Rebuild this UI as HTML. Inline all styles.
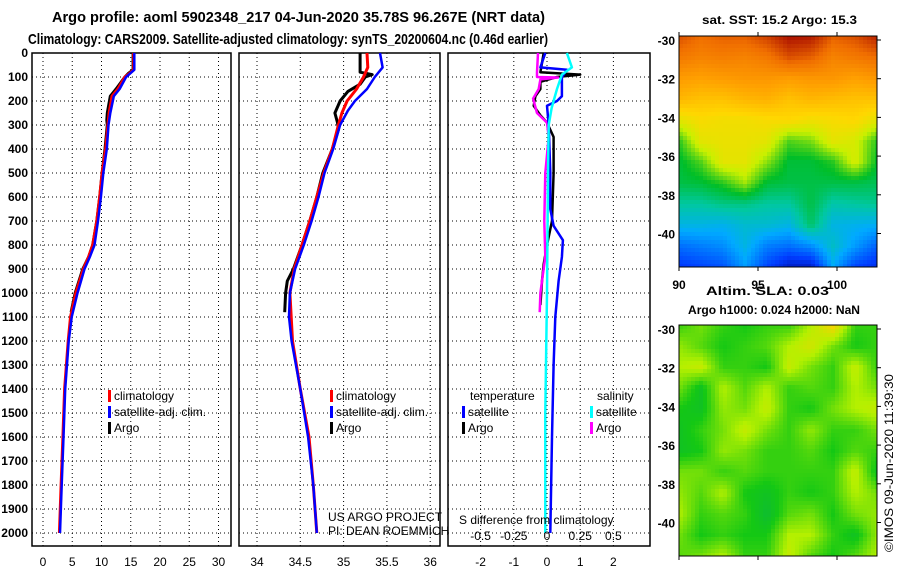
<!DOCTYPE html>
<html><head><meta charset="utf-8"><style>
body{margin:0;background:#fff;}
svg{display:block;font-family:"Liberation Sans",sans-serif;font-weight:bold;}
</style></head><body>
<svg id="fig" width="900" height="580" viewBox="0 0 900 580">
<rect width="900" height="580" fill="#fff"/>
<text x="52" y="22" font-size="15" textLength="493" lengthAdjust="spacingAndGlyphs">Argo profile: aoml 5902348_217 04-Jun-2020 35.78S 96.267E (NRT data)</text>
<text x="28" y="44" font-size="15" textLength="520" lengthAdjust="spacingAndGlyphs">Climatology: CARS2009. Satellite-adjusted climatology: synTS_20200604.nc (0.46d earlier)</text>
<g id="panels"></g>
<g id="maps"></g>
<text x="702" y="24" font-size="12" textLength="155" lengthAdjust="spacingAndGlyphs">sat. SST: 15.2 Argo: 15.3</text>
<text x="706" y="295" font-size="12" textLength="123" lengthAdjust="spacingAndGlyphs">Altim. SLA: 0.03</text>
<text x="688" y="314" font-size="12" textLength="172" lengthAdjust="spacingAndGlyphs">Argo h1000: 0.024 h2000: NaN</text>
<text transform="translate(893,552) rotate(-90)" font-size="12" font-weight="normal" textLength="178" lengthAdjust="spacingAndGlyphs">©IMOS 09-Jun-2020 11:39:30</text>
</svg>
<script>
// ---- data ----
const depthTicks=[0,100,200,300,400,500,600,700,800,900,1000,1100,1200,1300,1400,1500,1600,1700,1800,1900,2000];
const tTicks=[0,5,10,15,20,25,30];
const sTicks=[34,34.5,35,35.5,36];
const sTickLabels=["34","34.5","35","35.5","36"];
const dTicks=[-2,-1,0,1,2];
const sdTickLabels=["-0.5","-0.25","0","0.25","0.5"];
// temperature profiles [depth, degC]
const tempClim=[[0,15.5],[70,15.5],[85,14.8],[100,14.0],[150,12.8],[180,11.8],[250,11.3],[300,11.1],[400,10.7],[500,10.1],[600,9.7],[700,9.2],[800,8.5],[850,7.8],[900,6.9],[1000,5.6],[1100,4.7],[1200,4.3],[1400,3.7],[1600,3.4],[1800,3.1],[2000,2.8]];
const tempSat=[[0,15.6],[70,15.6],[85,14.9],[100,14.2],[150,13.1],[180,12.1],[250,11.5],[300,11.2],[400,10.9],[500,10.3],[600,9.9],[700,9.4],[800,8.8],[850,8.0],[900,7.1],[1000,5.9],[1100,4.9],[1200,4.4],[1400,3.8],[1600,3.5],[1800,3.2],[2000,2.9]];
const tempArgo=[[0,15.4],[70,15.4],[85,14.6],[100,14.0],[150,12.5],[180,11.5],[250,11.0],[280,10.9],[300,11.0],[400,10.6],[500,10.1],[600,9.7],[700,9.2],[800,8.5],[850,7.8],[900,6.8],[1000,5.5],[1080,4.8]];
// salinity profiles [depth, psu]
const salClim=[[0,35.27],[60,35.28],[100,35.23],[150,35.15],[200,35.04],[250,34.98],[300,34.94],[400,34.87],[500,34.77],[600,34.69],[700,34.61],[800,34.52],[900,34.43],[1000,34.38],[1200,34.41],[1400,34.5],[1600,34.6],[1800,34.65],[2000,34.69]];
const salSat=[[0,35.42],[60,35.45],[100,35.36],[150,35.27],[200,35.13],[240,35.05],[300,34.96],[400,34.88],[500,34.78],[600,34.71],[700,34.63],[800,34.54],[900,34.44],[1000,34.38],[1100,34.37],[1200,34.4],[1400,34.5],[1600,34.59],[1800,34.65],[2000,34.69]];
const salArgo=[[0,35.19],[80,35.19],[90,35.33],[100,35.25],[130,35.19],[160,35.05],[200,34.96],[250,34.9],[290,34.93],[320,34.94],[400,34.87],[500,34.76],[600,34.69],[700,34.61],[800,34.52],[900,34.42],[950,34.35],[1000,34.33],[1080,34.32]];
// differences from climatology (temperature units; salinity plotted x4)
const dTempSat=[[0,-0.05],[60,-0.2],[70,0.6],[100,0.45],[180,0.45],[200,0.3],[220,0.0],[300,0.05],[500,0.1],[650,0.1],[720,0.2],[780,0.48],[850,0.45],[950,0.35],[1100,0.25],[1300,0.2],[1600,0.15],[2000,0.1]];
const dTempArgo=[[0,-0.1],[80,-0.2],[90,1.0],[100,0.3],[120,-0.2],[150,-0.2],[180,-0.35],[220,-0.4],[260,-0.2],[290,0.0],[350,0.2],[500,0.2],[700,0.15],[800,0.0],[880,-0.1],[950,-0.15],[1050,-0.2]];
const dSalSat=[[0,0.6],[60,0.75],[90,0.45],[150,0.3],[200,0.2],[230,0.14],[300,0.05],[500,0.03],[1000,0.0],[1500,-0.05],[2000,-0.05]];
const dSalArgo=[[0,-0.27],[80,-0.3],[100,-0.3],[102,0.33],[110,-0.2],[150,-0.25],[190,-0.42],[250,-0.3],[290,0.0],[350,0.05],[500,-0.05],[700,-0.08],[850,-0.05],[950,-0.15],[1000,-0.2],[1080,-0.22]];

const NS="http://www.w3.org/2000/svg";
function mk(tag,attrs,parent){const e=document.createElementNS(NS,tag);for(const k in attrs)e.setAttribute(k,attrs[k]);parent.appendChild(e);return e;}
const yD=d=>53+d*0.24;
const panels=[
 {x0:32,x1:231,fx:v=>43+5.85*v,ticks:tTicks,labels:tTicks.map(String),name:"temperature"},
 {x0:239,x1:440,fx:v=>257+86.6*(v-34),ticks:sTicks,labels:sTickLabels,name:"salinity"},
 {x0:448,x1:650,fx:v=>547+33.2*v,ticks:dTicks,labels:dTicks.map(String),name:"difference"}
];
const G=document.getElementById('panels');
panels.forEach((p,pi)=>{
 const g=mk('g',{},G);
 
 
 depthTicks.forEach(d=>{
  const l=mk('line',{x1:p.x0,x2:p.x1,y1:yD(d),y2:yD(d),stroke:'#000','stroke-width':1,'stroke-dasharray':'1,3'},g);
  
  
 });
 p.ticks.forEach((v,i)=>{
  const x=p.fx(v);
  const l=mk('line',{x1:x,x2:x,y1:53,y2:546,stroke:'#000','stroke-width':1,'stroke-dasharray':'1,3'},g);
  
  
  const t=mk('text',{x:x,y:566,'font-size':12,'text-anchor':'middle','font-weight':'normal'},g);
  t.textContent=p.labels[i];
  
  
 });
 const r=mk('rect',{x:p.x0,y:53,width:p.x1-p.x0,height:493,fill:'none',stroke:'#000','stroke-width':1.5},g);
 
 
});
depthTicks.forEach(d=>{
 const t=mk('text',{x:28,y:yD(d)+4,'font-size':12,'text-anchor':'end'},G);
 t.textContent=String(d);
 
 
});
function line(pts,fx,col,name,w){
 const dstr=pts.map((p,i)=>(i?'L':'M')+fx(p[1]).toFixed(1)+','+yD(p[0]).toFixed(1)).join('');
 const e=mk('path',{d:dstr,fill:'none',stroke:col,'stroke-width':w||3,'stroke-linejoin':'round'},G);
 
 
}
const P=panels;
line(tempArgo,P[0].fx,'#000','temp-argo-line');
line(tempClim,P[0].fx,'#f00','temp-climatology-line');
line(tempSat,P[0].fx,'#00f','temp-satellite-line',2.5);
line(salArgo,P[1].fx,'#000','sal-argo-line');
line(salClim,P[1].fx,'#f00','sal-climatology-line');
line(salSat,P[1].fx,'#00f','sal-satellite-line',2.5);
const fs=v=>P[2].fx(v);
line(dTempArgo,fs,'#000','tdiff-argo-line',2.5);
line(dSalArgo,fs,'#f0f','sdiff-argo-line',2.5);
line(dTempSat,fs,'#00f','tdiff-satellite-line',2.5);
line(dSalSat,fs,'#0ff','sdiff-satellite-line',2.5);
// legends
function leg(x,y,col,txt,name){
 const r=mk('rect',{x:x,y:y-10,width:3,height:12,fill:col},G);
 
 
 const t=mk('text',{x:x+6,y:y,'font-size':12,'font-weight':'normal'},G);
 t.textContent=txt;
 
 
}
[[108,'temp'],[330,'sal']].forEach(([x,n])=>{
 leg(x,400,'#f00','climatology',n+'-legend-climatology');
 leg(x,416,'#00f','satellite-adj. clim.',n+'-legend-satellite');
 leg(x,432,'#000','Argo',n+'-legend-argo');
});
function txt(x,y,s,name,size,anchor){
 const t=mk('text',{x:x,y:y,'font-size':size||12,'font-weight':'normal','text-anchor':anchor||'start'},G);
 t.textContent=s;
 
 
}
txt(470,400,'temperature','legend-temperature-heading');
txt(597,400,'salinity','legend-salinity-heading');
leg(462,416,'#00f','satellite','legend-tdiff-satellite');
leg(462,432,'#000','Argo','legend-tdiff-argo');
leg(590,416,'#0ff','satellite','legend-sdiff-satellite');
leg(590,432,'#f0f','Argo','legend-sdiff-argo');
txt(328,521,'US ARGO PROJECT','project-credit');
txt(328,535,'PI: DEAN ROEMMICH','pi-credit');
txt(459,524,'S difference from climatology','sdiff-axis-title');
[-0.5,-0.25,0,0.25,0.5].forEach((v,i)=>txt(fs(v*4),540,sdTickLabels[i],'sdiff-tick-label',12,'middle'));

// ---- maps ----
const sstGrid=[
[0.9,0.86,0.88,0.88,0.92,0.98,0.97,0.88,0.9,0.96],
[0.84,0.82,0.83,0.82,0.84,0.9,0.88,0.82,0.84,0.86],
[0.77,0.76,0.77,0.78,0.78,0.77,0.78,0.78,0.76,0.78],
[0.72,0.7,0.7,0.72,0.73,0.7,0.72,0.71,0.7,0.7],
[0.62,0.65,0.64,0.64,0.65,0.66,0.64,0.65,0.66,0.62],
[0.5,0.62,0.63,0.63,0.62,0.52,0.54,0.62,0.6,0.5],
[0.47,0.52,0.62,0.62,0.55,0.47,0.47,0.5,0.6,0.48],
[0.46,0.47,0.5,0.56,0.47,0.46,0.46,0.46,0.46,0.45],
[0.4,0.4,0.42,0.42,0.4,0.4,0.46,0.39,0.4,0.41],
[0.33,0.33,0.32,0.35,0.35,0.33,0.44,0.33,0.32,0.31],
[0.22,0.24,0.26,0.33,0.24,0.22,0.26,0.36,0.28,0.2],
[0.14,0.16,0.18,0.28,0.16,0.08,0.08,0.3,0.16,0.12]];
const slaGrid=[
[0.4,0.5,0.4,0.35,0.4,0.4,0.6,0.85,0.4,0.4],
[0.55,0.45,0.35,0.4,0.45,0.6,0.7,0.5,0.35,0.4],
[0.6,0.65,0.4,0.4,0.35,0.65,0.5,0.4,0.65,0.4],
[0.5,0.3,0.6,0.45,0.6,0.4,0.45,0.4,0.6,0.5],
[0.35,0.3,0.55,0.5,0.65,0.4,0.35,0.5,0.6,0.65],
[0.3,0.4,0.5,0.65,0.5,0.4,0.55,0.4,0.4,0.5],
[0.3,0.35,0.55,0.5,0.4,0.4,0.45,0.35,0.45,0.4],
[0.5,0.5,0.4,0.45,0.4,0.4,0.4,0.4,0.65,0.3],
[0.55,0.45,0.6,0.35,0.3,0.4,0.35,0.4,0.6,0.5],
[0.6,0.4,0.45,0.4,0.25,0.45,0.5,0.35,0.5,0.55],
[0.5,0.35,0.4,0.35,0.35,0.6,0.6,0.4,0.3,0.55],
[0.45,0.5,0.6,0.4,0.4,0.65,0.45,0.35,0.45,0.6]];
function interp(grid,u,v){
 const R=grid.length,C=grid[0].length;
 const fy=Math.min(Math.max(v*(R-1),0),R-1),fx=Math.min(Math.max(u*(C-1),0),C-1);
 const y0=Math.floor(fy),x0=Math.floor(fx),y1=Math.min(y0+1,R-1),x1=Math.min(x0+1,C-1);
 const a=fy-y0,b=fx-x0;
 return grid[y0][x0]*(1-a)*(1-b)+grid[y0][x1]*(1-a)*b+grid[y1][x0]*a*(1-b)+grid[y1][x1]*a*b;
}
function ramp(stops,t){
 t=Math.min(Math.max(t,0),1);
 for(let i=1;i<stops.length;i++){if(t<=stops[i][0]){const s=stops[i-1],e=stops[i],f=(t-s[0])/(e[0]-s[0]||1);
  return `rgb(${Math.round(s[1]+(e[1]-s[1])*f)},${Math.round(s[2]+(e[2]-s[2])*f)},${Math.round(s[3]+(e[3]-s[3])*f)})`;}}
 const l=stops[stops.length-1];return `rgb(${l[1]},${l[2]},${l[3]})`;
}
const jetStops=[[0,0,0,140],[0.15,0,60,255],[0.3,0,170,255],[0.4,0,200,160],[0.48,0,190,40],[0.58,200,240,0],[0.66,255,215,0],[0.76,255,160,0],[0.86,240,110,0],[1,160,0,0]];
const slaStops=[[0,0,160,120],[0.35,20,200,20],[0.6,180,240,0],[0.85,250,210,0],[1,255,180,0]];
const jet=t=>ramp(jetStops,t);
const slaCol=t=>ramp(slaStops,t);
const M=document.getElementById('maps');
function drawMap(x0,y0,w,h,grid,cmap,name,cs){
 const g=mk('g',{},M);
 
 
 for(let y=0;y<h;y+=cs)for(let x=0;x<w;x+=cs){
  const c=cmap(interp(grid,(x+cs/2)/w,(y+cs/2)/h));
  mk('rect',{x:x0+x,y:y0+y,width:Math.min(cs,w-x)+0.3,height:Math.min(cs,h-y)+0.3,fill:c},g);
 }
 const f=mk('rect',{x:x0,y:y0,width:w,height:h,fill:'none',stroke:'#000','stroke-width':1},g);
 
 
}
drawMap(679,36,198,231,sstGrid,jet,'sst-map',4);
drawMap(679,325,198,231,slaGrid,slaCol,'sla-map',4);
const latTicks=[-30,-32,-34,-36,-38,-40];
const lonTicks=[90,95,100];
[[40,'sst'],[329,'sla']].forEach(([top,n])=>{
 latTicks.forEach(v=>{
  const y=top+(-30-v)*19.35;
  const t=mk('text',{x:675,y:y+5,'font-size':12,'text-anchor':'end'},M);
  t.textContent=String(v);
  
  
  mk('line',{x1:877,x2:881,y1:y,y2:y,stroke:'#000'},M);
 });
});
lonTicks.forEach(v=>{
 const x=679+(v-90)*15.8;
 const t=mk('text',{x:x,y:289,'font-size':12,'text-anchor':'middle'},M);
 t.textContent=String(v);
 
 
 mk('line',{x1:x,x2:x,y1:267,y2:271,stroke:'#000'},M);
 mk('line',{x1:x,x2:x,y1:32,y2:36,stroke:'#000'},M);
 mk('line',{x1:x,x2:x,y1:556,y2:560,stroke:'#000'},M);
});
</script>
</body></html>
